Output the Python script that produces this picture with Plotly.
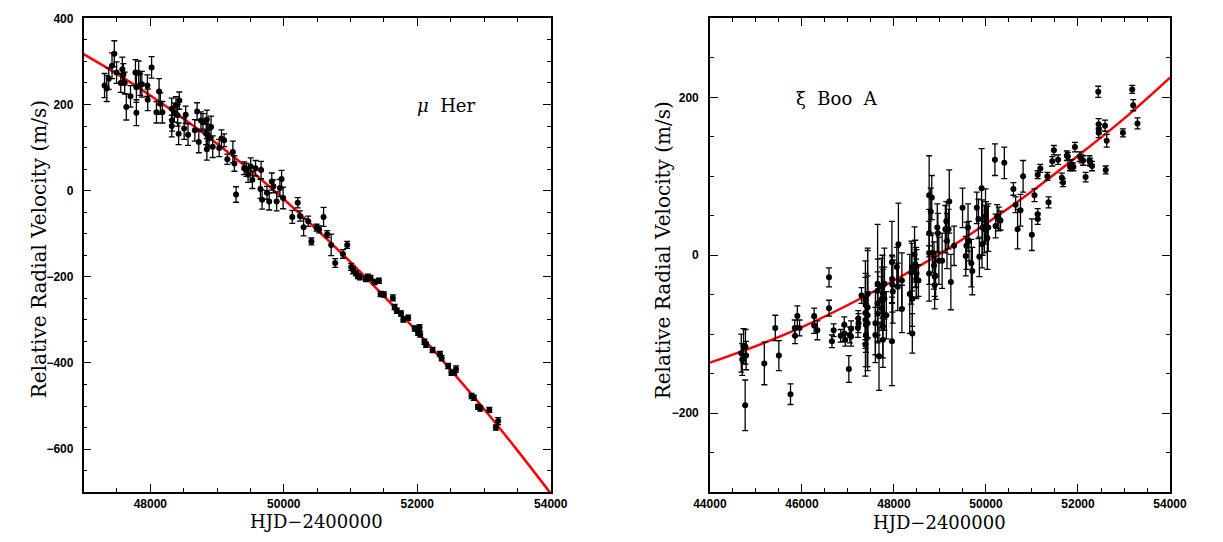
import plotly.graph_objects as go

# ---------------- mu Her (left panel) ----------------
her_hjd = [47314, 47347, 47377, 47426, 47460, 47494, 47557, 47581, 47596, 47616,
           47640, 47703, 47777, 47791, 47791, 47825, 47850, 47873, 47956, 47961,
           48019, 48092, 48131, 48151, 48180, 48321, 48326, 48321, 48360, 48384,
           48409, 48434, 48424, 48507, 48530, 48565, 48667, 48701, 48726, 48759,
           48789, 48847, 48837, 48847, 48861, 48880, 48910, 48935, 49032, 49066,
           49106, 49154, 49237, 49260, 49285, 49406, 49441, 49465, 49504, 49529,
           49577, 49660, 49650, 49675, 49748, 49781, 49820, 49844, 49893, 49942,
           49967, 49990, 50209, 50127, 50243, 50297, 50366, 50414, 50490, 50530,
           50596, 50650, 50710, 50770, 50886, 50950, 51010, 51040, 51080, 51110,
           51140, 51230, 51260, 51300, 51360, 51425, 51450, 51500, 51635, 51661,
           51693, 51756, 51791, 51864, 51961, 52011, 52034, 52044, 52107, 52131,
           52229, 52340, 52365, 52463, 52511, 52555, 52580, 52813, 52847, 52910,
           52944, 53080, 53178, 53212]
her_rv = [244, 237, 260, 290, 318, 274, 250, 282, 270, 250,
          194, 219, 274, 240, 181, 273, 246, 247, 244, 211,
          286, 182, 230, 202, 182, 190, 163, 150, 181, 198,
          175, 209, 132, 144, 176, 130, 140, 184, 113, 163,
          159, 165, 132, 96, 129, 121, 148, 102, 99, 121,
          117, 73, 90, 63, -9, 52, 48, 37, 56, 25,
          52, 48, 4, -21, -5, -25, 21, 10, -25, 6,
          27, -17, -28, -61, -59, -85, -71, -118, -86, -90,
          -61, -101, -126, -168, -147, -126, -177, -185, -192, -198,
          -201, -205, -200, -203, -212, -209, -240, -241, -249, -270,
          -279, -285, -299, -295, -320, -330, -318, -334, -351, -358,
          -370, -379, -389, -407, -423, -422, -414, -477, -481, -502,
          -506, -509, -550, -535]
her_err = [28, 30, 25, 30, 30, 25, 22, 28, 25, 25,
           30, 25, 30, 35, 30, 28, 25, 30, 25, 25,
           25, 25, 30, 25, 25, 25, 25, 25, 22, 20,
           25, 20, 25, 25, 20, 25, 25, 20, 25, 20,
           20, 22, 25, 25, 25, 20, 25, 25, 20, 20,
           15, 12, 25, 18, 18, 15, 15, 18, 20, 20,
           18, 20, 22, 22, 15, 20, 20, 15, 22, 20,
           20, 25, 12, 15, 12, 20, 12, 8, 8, 8,
           22, 8, 25, 10, 10, 8, 8, 8, 6, 6,
           6, 6, 6, 6, 6, 6, 6, 6, 7, 6,
           6, 6, 6, 6, 6, 6, 7, 6, 6, 6,
           6, 6, 6, 6, 6, 6, 7, 6, 6, 6,
           6, 6, 6, 8]
her_fit_hjd = [47000, 47500, 48000, 48500, 49000, 49500, 50000, 50500,
               51000, 51500, 52000, 52500, 53000, 53500, 54000]
her_fit_rv = [317, 271, 221, 167, 109, 47, -20, -91,
              -166, -245, -328, -416, -507, -603, -703]

# ---------------- xi Boo A (right panel) ----------------
boo_hjd = [44682, 44703, 44731, 44773, 44788, 44767, 45183, 45421, 45499, 45752,
           45844, 45851, 45901, 45949, 46266, 46266, 46336, 46589, 46589, 46653,
           46689, 46843, 46921, 46921, 46942, 47020, 47041, 47069, 47069, 47217,
           47230, 47225, 47295, 47380, 47385, 47380, 47380, 47390, 47390, 47380,
           47428, 47428, 47428, 47428, 47597, 47597, 47645, 47645, 47645, 47645,
           47675, 47730, 47730, 47730, 47740, 47750, 47760, 47760, 47760, 47793,
           47793, 47835, 47956, 47960, 47965, 47975, 47956, 48062, 48083, 48097,
           48173, 48173, 48343, 48378, 48393, 48399, 48399, 48448, 48463, 48484,
           48490, 48484, 48532, 48765, 48765, 48765, 48822, 48800, 48765, 48871,
           48906, 48976, 48837, 48885, 48885, 48942, 48955, 49047, 49117, 49138,
           49153, 49187, 49202, 49237, 49307, 49491, 49561, 49576, 49610, 49631,
           49681, 49703, 49800, 49836, 49856, 49905, 49914, 49926, 49965, 49990,
           50005, 50030, 50050, 50209, 50243, 50279, 50315, 50195, 50399, 50596,
           50644, 50687, 50750, 50807, 50997, 51054, 51124, 51124, 51124, 51181,
           51335, 51360, 51441, 51476, 51567, 51650, 51675, 51758, 51779, 51827,
           51862, 51899, 51933, 52038, 52074, 52110, 52165, 52250, 52264, 52306,
           52440, 52448, 52455, 52450, 52588, 52603, 52624, 52976, 53179, 53200,
           53293]
boo_rv = [-124, -132, -115, -116, -127, -190, -137, -92, -127, -176,
          -92, -102, -77, -92, -77, -89, -95, -28, -67, -109,
          -95, -102, -99, -88, -107, -144, -101, -103, -93, -92,
          -86, -80, -51, -57, -63, -73, -82, -88, -101, -113,
          -49, -66, -76, -86, -86, -101, -45, -36, -61, -74,
          -128, -39, -57, -67, -55, -40, -48, -90, -107, -36,
          -55, -76, -9, -30, -37, -46, -109, -15, -40, 14,
          -32, -68, -49, -22, -15, -55, -99, 1, -11, -15,
          -23, -30, -32, 76, 3, -23, 73, 55, 28, -13,
          -26, -7, 3, -27, -38, 35, 28, -7, 33, 43,
          18, 33, 68, -34, 12, 60, -1, 12, 35, 18,
          -10, -20, 60, 46, -2, 85, 14, 35, 33, 49,
          43, 22, 35, 37, 49, 46, 44, 121, 117, 84,
          64, 33, 57, 100, 26, 76, 52, 46, 102, 110,
          100, 67, 119, 133, 121, 98, 92, 126, 125, 112,
          115, 112, 137, 125, 122, 120, 99, 120, 118, 113,
          207, 166, 160, 155, 164, 108, 145, 155, 210, 190,
          167]
boo_err = [24, 20, 22, 22, 18, 32, 27, 16, 19, 13,
           10, 10, 13, 10, 10, 10, 12, 12, 10, 8,
           8, 8, 10, 10, 8, 17, 10, 12, 10, 12,
           12, 10, 10, 50, 40, 45, 30, 35, 40, 40,
           55, 75, 30, 60, 40, 35, 40, 75, 40, 35,
           43, 35, 30, 25, 40, 40, 30, 40, 35, 45,
           40, 30, 52, 30, 35, 40, 56, 25, 30, 52,
           35, 30, 50, 40, 30, 35, 25, 35, 30, 25,
           30, 25, 20, 50, 40, 35, 28, 30, 30, 30,
           30, 30, 25, 25, 30, 30, 25, 35, 30, 25,
           35, 25, 40, 35, 25, 25, 25, 30, 30, 25,
           30, 30, 20, 25, 25, 50, 30, 35, 30, 35,
           25, 40, 30, 15, 15, 15, 12, 20, 20, 8,
           10, 25, 20, 20, 20, 8, 7, 7, 5, 5,
           5, 7, 6, 6, 6, 6, 5, 6, 5, 5,
           6, 5, 6, 6, 5, 6, 6, 6, 5, 6,
           7, 7, 6, 6, 7, 5, 8, 5, 5, 7,
           7]
boo_fit_hjd = [44000, 45000, 46000, 47000, 48000, 49000, 50000, 51000,
               52000, 53000, 54000]
boo_fit_rv = [-136, -115, -91, -63, -32, 2, 40, 81, 126, 173, 225]

W, H = 1223, 542

fig = go.Figure()

err_style = dict(type="data", color="black", thickness=1.3, width=3, visible=True)
mk = dict(color="black", size=6)

fig.add_trace(go.Scatter(x=her_fit_hjd, y=her_fit_rv, mode="lines",
                         line=dict(color="red", width=2.5, shape="spline"),
                         xaxis="x", yaxis="y", hoverinfo="skip"))
fig.add_trace(go.Scatter(x=her_hjd, y=her_rv, mode="markers", marker=mk,
                         error_y=dict(array=her_err, **err_style),
                         xaxis="x", yaxis="y"))
fig.add_trace(go.Scatter(x=boo_fit_hjd, y=boo_fit_rv, mode="lines",
                         line=dict(color="red", width=2.5, shape="spline"),
                         xaxis="x2", yaxis="y2", hoverinfo="skip"))
fig.add_trace(go.Scatter(x=boo_hjd, y=boo_rv, mode="markers", marker=mk,
                         error_y=dict(array=boo_err, **err_style),
                         xaxis="x2", yaxis="y2"))

common = dict(showline=True, linecolor="black", linewidth=1.5, mirror="allticks",
              ticks="inside", ticklen=8, tickwidth=1, tickcolor="black",
              showgrid=False, zeroline=False, tickformat="d",
              tickfont=dict(family="Liberation Sans", size=12, color="black", weight="bold"))
minor = dict(ticks="inside", ticklen=4, tickcolor="black", tick0=0)

ydom = [1 - 491.5 / H, 1 - 11.5 / H]

fig.update_layout(
    width=W, height=H, margin=dict(l=0, r=0, t=0, b=0),
    paper_bgcolor="white", plot_bgcolor="white", showlegend=False,
    xaxis=dict(domain=[68.5 / W, 549 / W], range=[47000, 54000], dtick=2000, tick0=0,
               minor=dict(dtick=500, **minor), anchor="y", **common),
    yaxis=dict(domain=ydom, range=[-700, 400], dtick=200, tick0=0,
               minor=dict(dtick=50, **minor), anchor="x", ticklabelstandoff=6, **common),
    xaxis2=dict(domain=[712.7 / W, 1186 / W], range=[44000, 54000], dtick=2000, tick0=0,
                minor=dict(dtick=500, **minor), anchor="y2", **common),
    yaxis2=dict(domain=ydom, range=[-300, 300], dtick=200, tick0=0,
                minor=dict(dtick=50, **minor), anchor="x2", ticklabelstandoff=7, **common),
)

ytitle_font = dict(family="DejaVu Serif", size=20, color="black")
xtitle_font = dict(family="DejaVu Serif", size=18, color="black")
ann = [
    dict(text="Relative Radial Velocity (m/s)", x=22 / W, y=1 - 245 / H, textangle=-90, font=ytitle_font),
    dict(text="Relative Radial Velocity (m/s)", x=664 / W, y=1 - 247 / H, textangle=-90, font=ytitle_font),
    dict(text="HJD\u22122400000", x=308 / W, y=1 - 521 / H, font=xtitle_font),
    dict(text="HJD\u22122400000", x=949 / W, y=1 - 522 / H, font=xtitle_font),
]
for a in ann:
    fig.add_annotation(xref="paper", yref="paper", showarrow=False,
                       xanchor="center", yanchor="middle", **a)

fig.add_annotation(xref="x", yref="y", x=52424, y=198, text="<i>\u03bc</i>  Her",
                   showarrow=False, font=dict(family="DejaVu Serif", size=18, color="black"))
fig.add_annotation(xref="x2", yref="y2", x=46752, y=199, text="\u03be  Boo  A",
                   showarrow=False, font=dict(family="DejaVu Serif", size=18, color="black"))

fig.write_html("out.html")
